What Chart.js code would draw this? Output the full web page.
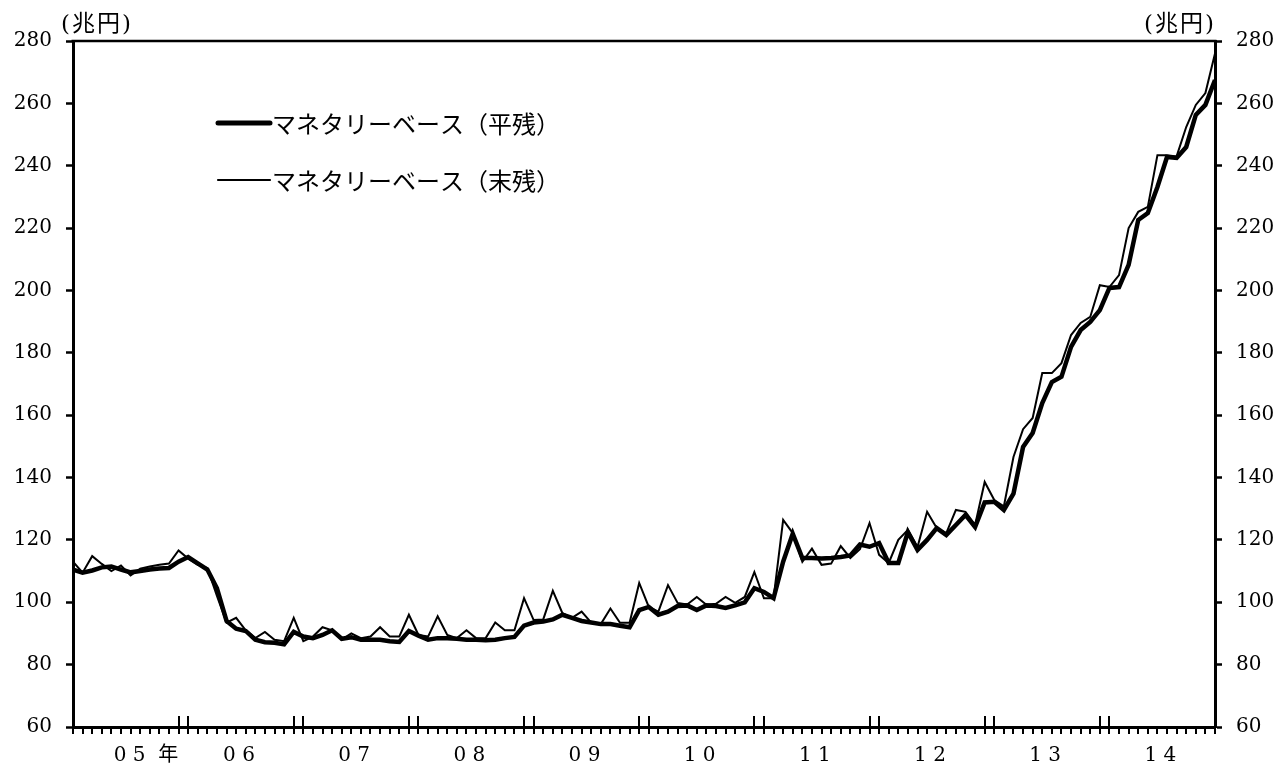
<!DOCTYPE html>
<html lang="ja">
<head>
<meta charset="utf-8">
<title>マネタリーベース</title>
<script src="https://cdn.jsdelivr.net/npm/chart.js@4.4.1/dist/chart.umd.min.js"></script>
<style>
  html, body { margin: 0; padding: 0; background: #fff; }
  #wrap { width: 1282px; height: 778px; }
</style>
</head>
<body>
<div id="wrap"><canvas id="chart" width="1282" height="778"></canvas></div>
<script>
document.addEventListener('DOMContentLoaded', () => {

    // --- Data (monthly, Jan 2005 - Dec 2014, 兆円) ---
    const yearLabels = ['0 5  年', '0 6', '0 7', '0 8', '0 9', '1 0', '1 1', '1 2', '1 3', '1 4'];

    // マネタリーベース（平残）
    const avgBalance = [
        110.5, 109.5, 110.2, 111.2, 111.5, 110.5, 109.6, 110.0, 110.5, 110.8, 111.0, 113.0,
        114.5, 112.5, 110.5, 104.5, 94.0, 91.5, 90.8, 88.0, 87.2, 87.0, 86.5, 90.5,
        89.0, 88.5, 89.5, 91.0, 88.3, 88.8, 88.0, 88.0, 88.0, 87.5, 87.3, 90.8,
        89.3, 88.0, 88.5, 88.5, 88.3, 88.0, 88.0, 87.8, 88.0, 88.5, 88.9, 92.5,
        93.5, 93.8, 94.5, 96.0, 95.0, 94.0, 93.5, 93.0, 93.0, 92.5, 92.0, 97.5,
        98.5, 96.0, 97.0, 98.8, 99.0, 97.5, 99.0, 98.8, 98.2, 99.0, 100.0, 104.5,
        103.3, 101.3, 113.0, 122.0, 114.2, 114.2, 114.0, 114.2, 114.5, 115.0, 118.5, 117.8,
        119.0, 112.6, 112.6, 122.5, 116.8, 120.0, 123.8, 121.6, 124.8, 128.0, 124.1, 132.0,
        132.2, 129.6, 134.8, 149.8, 154.3, 163.9, 170.6, 172.3, 181.9, 187.3, 189.9, 193.7,
        200.8, 201.1, 208.2, 222.6, 224.8, 233.2, 242.8, 242.5, 246.0, 256.3, 259.5, 267.5
    ];

    // マネタリーベース（末残）
    const endBalance = [
        113.0, 109.5, 114.8, 112.3, 110.0, 111.8, 108.6, 110.8, 111.5, 112.0, 112.4, 116.6,
        114.0, 112.0, 111.0, 102.0, 93.5, 95.0, 91.0, 88.5, 90.5, 88.0, 87.5, 95.0,
        87.5, 89.0, 92.0, 91.0, 88.0, 90.0, 88.5, 89.0, 92.0, 89.0, 89.0, 96.0,
        89.5, 89.0, 95.5, 89.5, 88.5, 91.0, 88.5, 88.5, 93.5, 91.0, 91.0, 101.3,
        94.3, 94.5, 103.7, 96.5, 95.0, 97.0, 93.5, 93.0, 98.0, 93.4, 93.4, 106.2,
        98.5, 97.0, 105.5, 99.8, 99.3, 101.7, 99.2, 99.5, 101.7, 99.8, 101.7, 109.7,
        101.3, 101.3, 126.4, 122.2, 113.0, 117.2, 112.0, 112.4, 118.0, 114.2, 117.0, 125.4,
        115.2, 112.6, 120.0, 123.2, 117.7, 129.0, 123.8, 122.2, 129.6, 129.0, 124.8, 138.6,
        132.8, 130.8, 146.6, 155.5, 159.1, 173.5, 173.5, 176.7, 185.7, 189.6, 191.5, 201.7,
        201.1, 204.9, 220.0, 225.2, 226.8, 243.4, 243.4, 243.0, 252.4, 259.5, 263.3, 276.0
    ];

    const yTicks = [60, 80, 100, 120, 140, 160, 180, 200, 220, 240, 260, 280];
    const legendLabels = ['マネタリーベース（平残）', 'マネタリーベース（末残）'];
    const unitLabel = '(兆円)';

    const numFont = "'DejaVu Serif', 'Noto Sans CJK JP', serif";
    const jpFont = "'Noto Sans CJK JP', sans-serif";

    const toPoints = arr => arr.map((v, i) => ({ x: i, y: v }));
    const lastIdx = avgBalance.length - 1;

    // year label positions (month index), first one carries 年 so sits further right
    const labelMap = new Map();
    yearLabels.forEach((lbl, k) => labelMap.set(k * 12 + (k === 0 ? 7.6 : 5.3), lbl));

    // --- Decorations: month ticks, year breaks, top frame, unit labels, legend ---
    const decorations = {
        id: 'decorations',
        afterDraw(chart) {
            const { ctx, chartArea: a, scales: { x } } = chart;
            const axisY = Math.round(a.bottom);
            ctx.save();
            ctx.fillStyle = '#000';

            // top frame
            ctx.fillRect(a.left - 1.5, a.top - 1.25, a.right - a.left + 3, 2.5);

            // one tick per month below the axis
            avgBalance.forEach((_, i) => {
                const px = Math.round(x.getPixelForValue(i));
                ctx.fillRect(px - 1, axisY, 2, 7);
            });

            // year breaks: last/first month ticks run up into the plot
            for (let k = 1; k < yearLabels.length; k++) {
                [k * 12 - 1, k * 12].forEach(i => {
                    const px = Math.round(x.getPixelForValue(i));
                    ctx.fillRect(px - 1, axisY - 11, 2, 18);
                });
            }

            ctx.textBaseline = 'middle';
            ctx.font = `23px ${numFont}`;
            ctx.letterSpacing = '2px';
            ctx.textAlign = 'left';
            ctx.fillText(unitLabel, a.left - 12, a.top - 16);
            ctx.textAlign = 'right';
            ctx.fillText(unitLabel, a.right + 1, a.top - 16);
            ctx.letterSpacing = '0px';

            // legend
            const rows = [
                { y: a.top + 82, width: 5, label: legendLabels[0] },
                { y: a.top + 139, width: 2.2, label: legendLabels[1] }
            ];
            ctx.strokeStyle = '#000';
            ctx.font = `24px ${jpFont}`;
            ctx.textAlign = 'left';
            rows.forEach(r => {
                ctx.lineWidth = r.width;
                ctx.lineCap = 'round';
                ctx.beginPath();
                ctx.moveTo(a.left + 145, r.y);
                ctx.lineTo(a.left + 197, r.y);
                ctx.stroke();
                ctx.fillText(r.label, a.left + 199, r.y + 1);
            });
            ctx.restore();
        }
    };

    const axisTickFont = { family: numFont, size: 20 };

    new Chart(document.getElementById('chart'), {
        type: 'line',
        data: {
            datasets: [
                { label: legendLabels[0], data: toPoints(avgBalance), borderColor: '#000', borderWidth: 4.5, pointRadius: 0, tension: 0, yAxisID: 'y' },
                { label: legendLabels[1], data: toPoints(endBalance), borderColor: '#000', borderWidth: 2, pointRadius: 0, tension: 0, yAxisID: 'y' }
            ]
        },
        options: {
            responsive: false,
            animation: false,
            layout: { padding: { top: 41, left: 0, right: 0, bottom: 0 } },
            plugins: { legend: { display: false }, tooltip: { enabled: false } },
            scales: {
                // monthly axis
                x: {
                    type: 'linear',
                    position: 'bottom',
                    weight: 0,
                    min: 0,
                    max: lastIdx,
                    afterFit: s => { s.height = 8; },
                    border: { display: true, color: '#000', width: 3 },
                    grid: { display: false },
                    ticks: { display: false }
                },
                // year labels
                xYear: {
                    type: 'linear',
                    position: 'bottom',
                    weight: 1,
                    min: 0,
                    max: lastIdx,
                    afterBuildTicks: s => { s.ticks = [...labelMap.keys()].map(v => ({ value: v })); },
                    afterFit: s => { s.height = 43; },
                    border: { display: false },
                    grid: { display: false, drawTicks: false },
                    ticks: {
                        autoSkip: false,
                        maxRotation: 0,
                        color: '#000',
                        font: axisTickFont,
                        padding: 9,
                        callback: v => labelMap.get(v) || ''
                    }
                },
                y: {
                    type: 'linear',
                    position: 'left',
                    min: 60,
                    max: 280,
                    afterBuildTicks: s => { s.ticks = yTicks.map(v => ({ value: v })); },
                    afterFit: s => { s.width = 73; },
                    border: { display: true, color: '#000', width: 3 },
                    grid: { drawOnChartArea: false, tickLength: 7, tickWidth: 2.5, tickColor: '#000' },
                    ticks: { color: '#000', font: axisTickFont, padding: 14 }
                },
                y2: {
                    type: 'linear',
                    position: 'right',
                    min: 60,
                    max: 280,
                    afterBuildTicks: s => { s.ticks = yTicks.map(v => ({ value: v })); },
                    afterFit: s => { s.width = 67; },
                    border: { display: true, color: '#000', width: 3 },
                    grid: { drawOnChartArea: false, tickLength: 7, tickWidth: 2.5, tickColor: '#000' },
                    ticks: { color: '#000', font: axisTickFont, padding: 14 }
                }
            }
        },
        plugins: [decorations]
    });
});
</script>
</body>
</html>
